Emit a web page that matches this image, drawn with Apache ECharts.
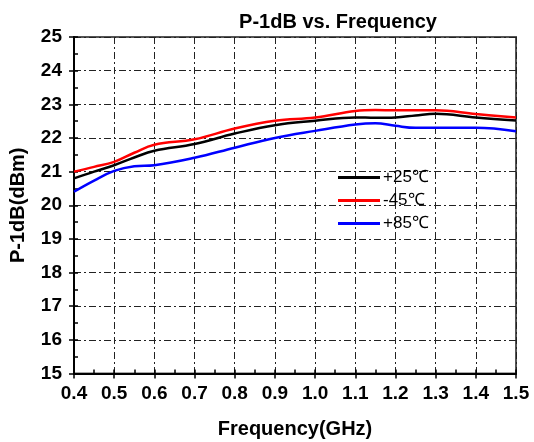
<!DOCTYPE html>
<html><head><meta charset="utf-8">
<script src="https://cdn.jsdelivr.net/npm/echarts@6/dist/echarts.min.js"></script>
<style>html,body{margin:0;padding:0;background:#fff}#c{width:534px;height:442px}</style>
</head><body><div id="c"></div>
<script>
const freq = [0.4, 0.45, 0.5, 0.55, 0.6, 0.7, 0.8, 0.9, 1.0, 1.1, 1.15, 1.2, 1.25, 1.3, 1.4, 1.5];
const p25  = [20.8, 21.0, 21.19, 21.42, 21.62, 21.82, 22.13, 22.38, 22.51, 22.61, 22.6, 22.61, 22.67, 22.72, 22.61, 22.52];
const m45  = [21.0, 21.14, 21.29, 21.56, 21.8, 21.96, 22.28, 22.51, 22.61, 22.8, 22.83, 22.82, 22.82, 22.82, 22.71, 22.61];
const p85  = [20.4, 20.73, 21.02, 21.16, 21.19, 21.41, 21.71, 22.0, 22.21, 22.4, 22.44, 22.36, 22.3, 22.3, 22.3, 22.2];
const seriesNames = ['+25℃', '-45℃', '+85℃'];
const colors = ['#000000', '#ff0000', '#0000ff'];
const titleText = 'P-1dB vs. Frequency';
const xName = 'Frequency(GHz)';
const yName = 'P-1dB(dBm)';

const chart = echarts.init(document.getElementById('c'));
const font = 'Liberation Sans, Arial, sans-serif';
const gridLine = {show:true, lineStyle:{color:'#222', width:1, type:[7,3,2,3]}};
const zip = a => freq.map((f,i)=>[f,a[i]]);
chart.setOption({
  animation:false,
  title:{text:titleText, left:333, top:7, textAlign:'center',
    textStyle:{fontFamily:font, fontWeight:'bold', fontSize:20, color:'#000'}},
  legend:{data:seriesNames, orient:'vertical', left:333, top:164, itemWidth:42, itemHeight:10, itemGap:6, padding:5,
    icon:'path://M0,0 L40,0 L40,3 L0,3 Z',
    textStyle:{fontFamily:font, fontSize:17, lineHeight:16, color:'#000', padding:[0,0,0,-2]}},
  grid:{left:74, right:18, top:37, bottom:68.5, outerBoundsMode:'none', containLabel:false,
    show:true, borderColor:'#555', borderWidth:2, backgroundColor:'transparent'},
  xAxis:[{type:'value', min:0.4, max:1.5, interval:0.1,
    name:xName, nameLocation:'middle', nameGap:46,
    nameTextStyle:{fontFamily:font, fontWeight:'bold', fontSize:20, color:'#000'},
    axisLine:{lineStyle:{color:'#000', width:2}},
    axisTick:{inside:false, length:5, lineStyle:{color:'#000', width:1.5}},
    axisLabel:{fontFamily:font, fontWeight:'bold', fontSize:19, color:'#000', margin:11,
      formatter:v=>v.toFixed(1)},
    splitLine:gridLine},
   {type:'value', min:0.4, max:1.5, interval:0.05, position:'bottom', gridIndex:0,
    axisLine:{show:false}, axisLabel:{show:false}, splitLine:{show:false},
    axisTick:{inside:true, length:4, lineStyle:{color:'#000', width:1.5}}}],
  yAxis:[{type:'value', min:15, max:25, interval:1,
    name:yName, nameLocation:'middle', nameGap:46,
    nameTextStyle:{fontFamily:font, fontWeight:'bold', fontSize:20, color:'#000'},
    axisLine:{show:true, lineStyle:{color:'#000', width:2}},
    axisTick:{show:true, inside:false, length:5, lineStyle:{color:'#000', width:1.5}},
    axisLabel:{fontFamily:font, fontWeight:'bold', fontSize:19, color:'#000', margin:12},
    splitLine:gridLine},
   {type:'value', min:15, max:25, interval:0.5, position:'left', gridIndex:0,
    axisLine:{show:false}, axisLabel:{show:false}, splitLine:{show:false},
    axisTick:{show:true, inside:true, length:4, lineStyle:{color:'#000', width:1.5}}}],
  series:[p25, m45, p85].map((d,i)=>({
    name:seriesNames[i], type:'line', data:zip(d), smooth:0.4, symbol:'none',
    color:colors[i], lineStyle:{color:colors[i], width:2.5}
  }))
});
</script></body></html>
